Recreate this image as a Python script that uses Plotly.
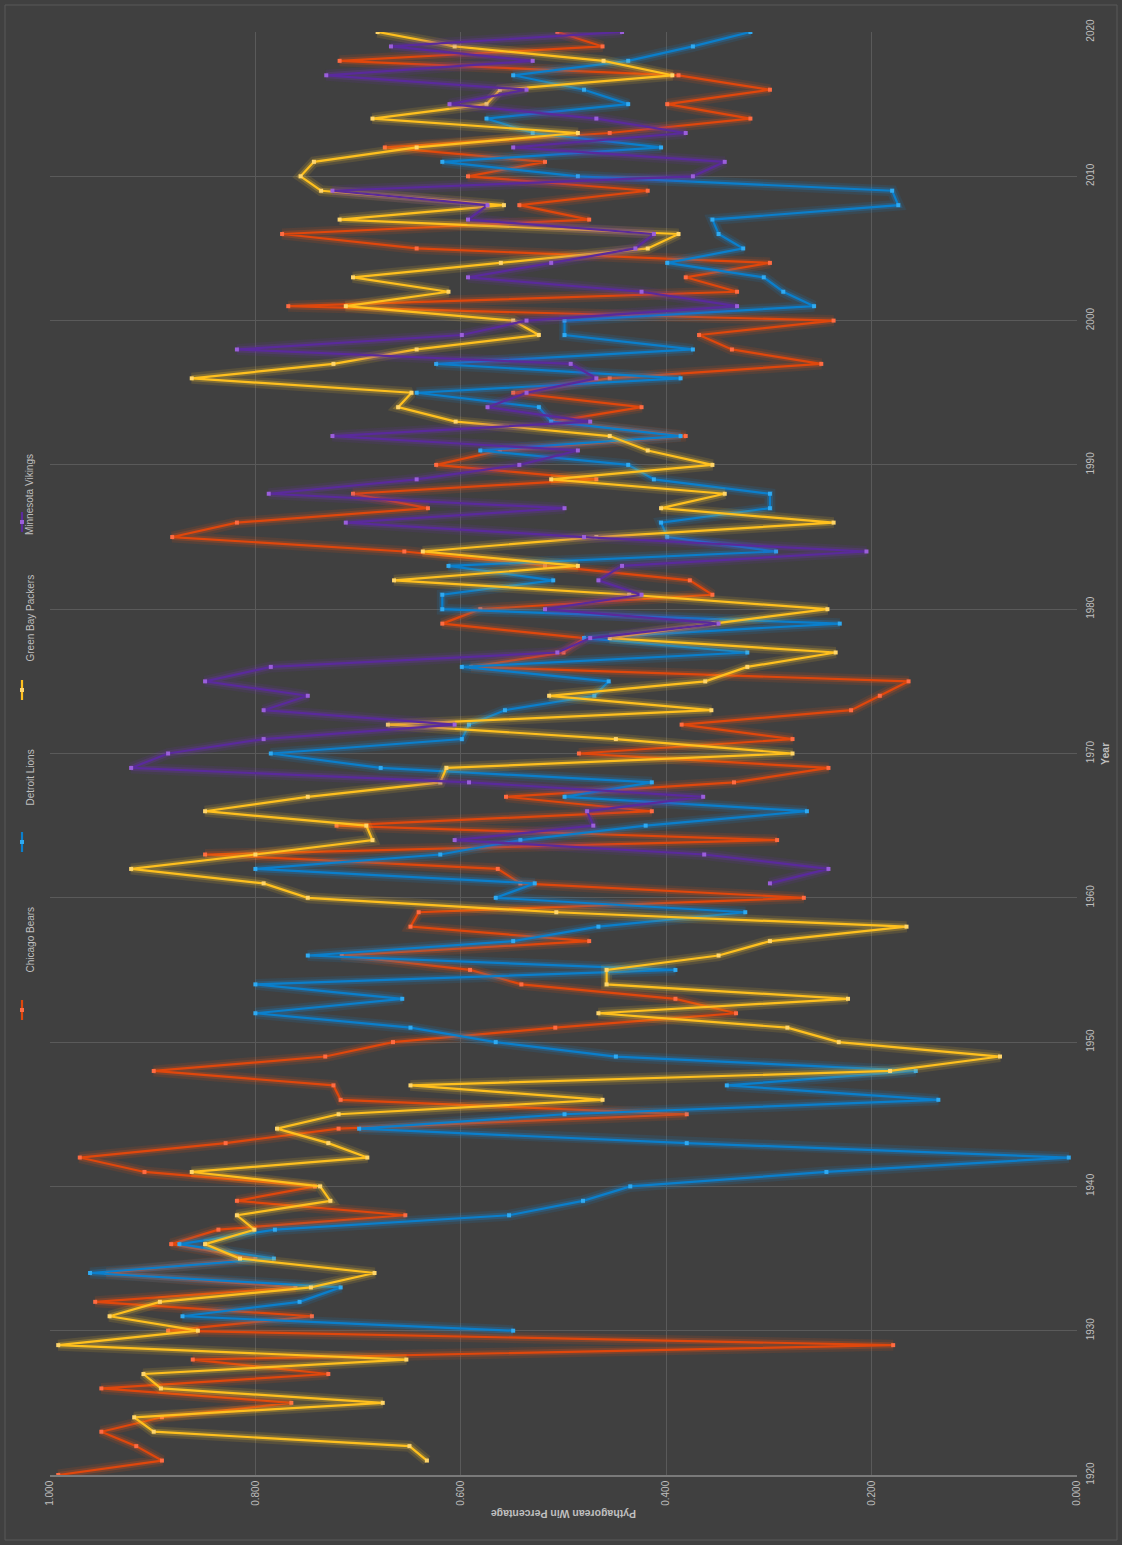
import plotly.graph_objects as go

years_chi = list(range(1920, 2021))
chicago = [0.992, 0.891, 0.916, 0.950, 0.891, 0.765, 0.950, 0.729, 0.861, 0.179,
           0.885, 0.745, 0.956, 0.761, 0.945, 0.800, 0.882, 0.836, 0.654, 0.818,
           0.742, 0.908, 0.971, 0.829, 0.719, 0.380, 0.717, 0.724, 0.899, 0.732,
           0.666, 0.508, 0.332, 0.391, 0.541, 0.591, 0.716, 0.475, 0.649, 0.641,
           0.266, 0.542, 0.564, 0.849, 0.292, 0.721, 0.414, 0.556, 0.334, 0.242,
           0.485, 0.277, 0.385, 0.220, 0.192, 0.164, 0.590, 0.500, 0.480, 0.618,
           0.581, 0.355, 0.377, 0.518, 0.655, 0.881, 0.818, 0.632, 0.705, 0.468,
           0.624, 0.562, 0.381, 0.510, 0.424, 0.549, 0.455, 0.249, 0.336, 0.368,
           0.237, 0.768, 0.331, 0.381, 0.299, 0.643, 0.774, 0.475, 0.543, 0.418,
           0.593, 0.518, 0.674, 0.455, 0.318, 0.399, 0.299, 0.388, 0.718, 0.462,
           0.506]

years_det = list(range(1930, 2021))
detroit = [0.549, 0.871, 0.757, 0.717, 0.961, 0.782, 0.874, 0.781, 0.553, 0.481,
           0.435, 0.244, 0.008, 0.380, 0.699, 0.499, 0.135, 0.341, 0.157, 0.449,
           0.566, 0.649, 0.800, 0.657, 0.800, 0.391, 0.749, 0.549, 0.466, 0.323,
           0.566, 0.528, 0.800, 0.620, 0.542, 0.420, 0.263, 0.499, 0.414, 0.678,
           0.785, 0.599, 0.592, 0.557, 0.470, 0.456, 0.599, 0.321, 0.480, 0.231,
           0.618, 0.618, 0.510, 0.612, 0.293, 0.399, 0.405, 0.299, 0.299, 0.412,
           0.437, 0.581, 0.386, 0.512, 0.524, 0.643, 0.386, 0.624, 0.374, 0.499,
           0.499, 0.256, 0.286, 0.305, 0.399, 0.325, 0.349, 0.355, 0.174, 0.180,
           0.486, 0.618, 0.405, 0.530, 0.575, 0.437, 0.480, 0.549, 0.437, 0.374,
           0.318]

years_gb = list(range(1921, 2021))
greenbay = [0.633, 0.650, 0.899, 0.918, 0.676, 0.892, 0.909, 0.653, 0.992,
            0.856, 0.942, 0.893, 0.746, 0.684, 0.815, 0.849, 0.801, 0.818, 0.727,
            0.737, 0.862, 0.691, 0.729, 0.779, 0.719, 0.462, 0.649, 0.182, 0.075,
            0.232, 0.282, 0.466, 0.223, 0.458, 0.458, 0.349, 0.299, 0.166, 0.507,
            0.749, 0.792, 0.921, 0.800, 0.686, 0.692, 0.849, 0.749, 0.620, 0.614,
            0.277, 0.449, 0.671, 0.356, 0.514, 0.362, 0.321, 0.235, 0.455, 0.354,
            0.243, 0.436, 0.665, 0.486, 0.637, 0.468, 0.237, 0.405, 0.343, 0.512,
            0.355, 0.418, 0.455, 0.605, 0.661, 0.648, 0.862, 0.724, 0.643, 0.524,
            0.549, 0.712, 0.612, 0.705, 0.561, 0.418, 0.388, 0.718, 0.558, 0.736,
            0.756, 0.743, 0.643, 0.486, 0.686, 0.575, 0.562, 0.394, 0.461, 0.606,
            0.681]

years_min = list(range(1961, 2021))
minnesota = [0.299, 0.242, 0.363, 0.606, 0.471, 0.477, 0.364, 0.592, 0.921,
             0.885, 0.792, 0.606, 0.792, 0.749, 0.849, 0.785, 0.506, 0.474, 0.349,
             0.518, 0.424, 0.466, 0.443, 0.205, 0.480, 0.712, 0.499, 0.787, 0.643,
             0.543, 0.486, 0.725, 0.474, 0.574, 0.536, 0.468, 0.493, 0.818, 0.599,
             0.536, 0.331, 0.424, 0.593, 0.512, 0.430, 0.412, 0.593, 0.574, 0.725,
             0.374, 0.343, 0.549, 0.381, 0.468, 0.611, 0.536, 0.731, 0.530, 0.668,
             0.443]

series_names = ["Chicago Bears", "Detroit Lions", "Green Bay Packers", "Minnesota Vikings"]
year_ticks = list(range(1920, 2021, 10))
pct_ticks = [0.0, 0.2, 0.4, 0.6, 0.8, 1.0]

line_colors = ["#E0470C", "#0A7FCC", "#FFC01E", "#5A2A9C"]
glow_colors = ["rgba(235,80,20,{a})", "rgba(20,140,225,{a})",
               "rgba(255,200,40,{a})", "rgba(110,50,180,{a})"]
marker_colors = ["#FF6B42", "#2FAAF2", "#FFD56A", "#9B5FDB"]

data = [(years_chi, chicago), (years_det, detroit), (years_gb, greenbay), (years_min, minnesota)]

fig = go.Figure()
for i, (yrs, vals) in enumerate(data):
    for w, a in [(11, 0.12), (6, 0.25)]:
        fig.add_trace(go.Scatter(x=vals, y=yrs, mode="lines",
                                 line=dict(color=glow_colors[i].format(a=a), width=w),
                                 hoverinfo="skip", showlegend=False))
    fig.add_trace(go.Scatter(x=vals, y=yrs, mode="lines+markers", name=series_names[i],
                             line=dict(color=line_colors[i], width=2.2),
                             marker=dict(symbol="square", size=4, color=marker_colors[i]),
                             showlegend=False))

font_col = "#BFBFBF"
fig.update_layout(
    width=1122, height=1545,
    margin=dict(l=50, r=45, t=32, b=70),
    paper_bgcolor="#404040", plot_bgcolor="#404040",
    font=dict(family="Liberation Sans, Arial, sans-serif", color=font_col, size=10),
    xaxis=dict(range=[1, 0], tickvals=pct_ticks, tickformat=".3f", tickangle=-90,
               showgrid=True, gridcolor="#5A5A5A", gridwidth=1, zeroline=False,
               showline=True, linecolor="#7A7A7A", linewidth=1.5, ticks="",
               tickfont=dict(size=10, color=font_col)),
    yaxis=dict(range=[1920, 2020], tickvals=year_ticks, side="right", tickangle=-90,
               showgrid=True, gridcolor="#5A5A5A", gridwidth=1, zeroline=False,
               showline=False, ticks="outside", ticklen=4, tickcolor="rgba(0,0,0,0)",
               tickfont=dict(size=10, color=font_col)),
)

# axis titles (rotated chart)
fig.add_annotation(text="<b>Pythagorean Win Percentage</b>", xref="paper", yref="paper",
                   x=0.5, y=-0.0326, textangle=180, showarrow=False,
                   font=dict(size=10.5, color=font_col))
fig.add_annotation(text="<b>Year</b>", xref="paper", yref="paper",
                   x=1.0345, y=0.5, textangle=-90, showarrow=False,
                   font=dict(size=10.5, color=font_col))

# rotated legend drawn on the left
legend_text_y = [940, 778, 618, 452]
legend_sym_y = [1010, 842, 690, 522]
def px2x(px):
    return (px - 50) / 1027.0
def py2y(py):
    return (1475 - py) / 1443.0

for i in range(4):
    fig.add_annotation(text=series_names[i], xref="paper", yref="paper",
                       x=px2x(22), y=py2y(legend_text_y[i]), textangle=-90,
                       showarrow=False, font=dict(size=10, color=font_col))
    sy = legend_sym_y[i]
    fig.add_shape(type="line", xref="paper", yref="paper",
                  x0=px2x(22), x1=px2x(22), y0=py2y(sy - 10), y1=py2y(sy + 10),
                  line=dict(color=line_colors[i], width=2.2))
    fig.add_shape(type="rect", xref="paper", yref="paper",
                  x0=px2x(20), x1=px2x(24), y0=py2y(sy - 2), y1=py2y(sy + 2),
                  line=dict(width=0), fillcolor=marker_colors[i])

# chart area border
fig.add_shape(type="rect", xref="paper", yref="paper",
              x0=px2x(5), x1=px2x(1117), y0=py2y(1540), y1=py2y(5),
              line=dict(color="#595959", width=1), fillcolor="rgba(0,0,0,0)", layer="below")

fig.write_html("out.html", config={"displayModeBar": False},
               post_script="document.body.style.margin='0';document.body.style.background='#404040';")
